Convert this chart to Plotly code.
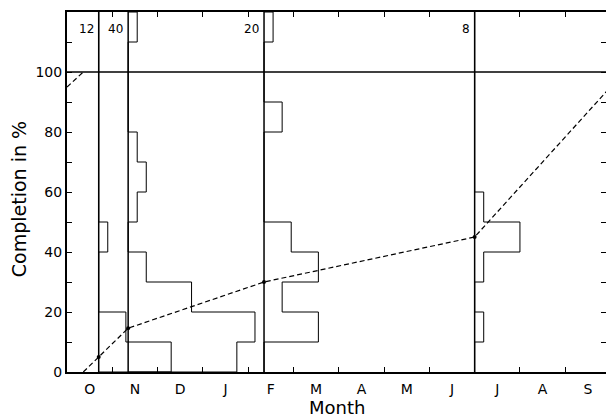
import plotly.graph_objects as go

# ---------------- data ----------------
months = ['O', 'N', 'D', 'J', 'F', 'M', 'A', 'M', 'J', 'J', 'A', 'S']
month_mid = [i + 0.5 for i in range(12)]
month_bounds = list(range(1, 12))

cohort_x = [0.7, 1.35, 4.35, 9.0]          # start of each cohort (months after 1 Oct)
cohort_n = [12, 40, 20, 8]                 # number of items per cohort
bin_edges = list(range(0, 130, 10))        # completion bins in %
counts = [
    [8, 3, 0, 0, 1, 0, 0, 0, 0, 0, 0, 0],
    [12, 14, 7, 2, 0, 1, 2, 1, 0, 0, 0, 1],
    [0, 6, 2, 6, 3, 0, 0, 0, 2, 0, 0, 1],
    [0, 1, 0, 1, 5, 1, 0, 0, 0, 0, 0, 0],
]
count_scale = 0.2                          # months of bar length per item

curve_x = [0.36, 0.7, 1.35, 4.35, 9.0, 12.0]
curve_y = [0, 5, 14.6, 30, 45, 95]
wrap_x = [0, 0.36]
wrap_y = [95, 100]
dot_x = [0.7, 1.35, 4.35, 9.0]
dot_y = [5, 14.6, 30, 45]

target = 100
x_max = 11.9
y_max = 120

FONT = 'DejaVu Sans'

fig = go.Figure()

# histogram step outlines
for x0, cnt in zip(cohort_x, counts):
    xs, ys = [x0], [bin_edges[0]]
    for i, c in enumerate(cnt):
        xs += [x0 + c * count_scale, x0 + c * count_scale]
        ys += [bin_edges[i], bin_edges[i + 1]]
    xs.append(x0)
    ys.append(bin_edges[-1])
    fig.add_trace(go.Scatter(x=xs, y=ys, mode='lines',
                             line=dict(color='black', width=1),
                             hoverinfo='skip', showlegend=False))

# cohort vertical lines
for x0 in cohort_x:
    fig.add_shape(type='line', xref='x', yref='paper', x0=x0, x1=x0, y0=0, y1=1,
                  line=dict(color='black', width=1.5))

# 100 % line
fig.add_shape(type='line', xref='paper', yref='y', x0=0, x1=1, y0=target, y1=target,
              line=dict(color='black', width=1.5))

# dashed completion curve
dash = '5px,3px'
fig.add_trace(go.Scatter(x=curve_x, y=curve_y, mode='lines',
                         line=dict(color='black', width=1.2, dash=dash),
                         showlegend=False, hoverinfo='skip'))
fig.add_trace(go.Scatter(x=wrap_x, y=wrap_y, mode='lines',
                         line=dict(color='black', width=1.2, dash=dash),
                         showlegend=False, hoverinfo='skip'))
fig.add_trace(go.Scatter(x=dot_x, y=dot_y, mode='markers',
                         marker=dict(color='black', size=4),
                         showlegend=False, hoverinfo='skip'))

# dummy traces for the mirrored tick axes
fig.add_trace(go.Scatter(x=[None], y=[None], yaxis='y2', showlegend=False))
fig.add_trace(go.Scatter(x=[None], y=[None], xaxis='x2', showlegend=False))

# cohort sizes
for x0, n in zip(cohort_x, cohort_n):
    fig.add_annotation(x=x0, y=114.3, text=str(n), showarrow=False,
                       xanchor='right', yanchor='middle', xshift=-3,
                       font=dict(family=FONT, size=12, color='black'))

# axis titles
fig.add_annotation(xref='paper', yref='paper', x=0.5, y=-0.1333, text='Month',
                   showarrow=False, xanchor='center', yanchor='bottom',
                   font=dict(family=FONT, size=18, color='black'))
fig.add_annotation(xref='paper', yref='paper', x=-0.089, y=0.48, text='Completion in %',
                   showarrow=False, textangle=-90, xanchor='center', yanchor='middle',
                   font=dict(family=FONT, size=19, color='black'))

ytickvals = list(range(0, 120, 10))
yticktext = [str(v) if v % 20 == 0 else '' for v in ytickvals]

fig.update_layout(
    width=606, height=420,
    margin=dict(l=67, r=0, t=12, b=48, autoexpand=False),
    paper_bgcolor='white', plot_bgcolor='white',
    font=dict(family=FONT, size=14, color='black'),
    xaxis=dict(range=[0, x_max], showgrid=False, zeroline=False,
               showline=True, linecolor='black', linewidth=2, mirror=True,
               tickmode='array', tickvals=month_mid, ticktext=months,
               ticks='', ticklabelstandoff=3,
               tickfont=dict(family=FONT, size=14, color='black'),
               minor=dict(tickmode='array', tickvals=month_bounds, ticks='inside',
                          ticklen=5, tickwidth=1.2, tickcolor='black'),
               automargin=False),
    xaxis2=dict(range=[0, x_max], overlaying='x', side='top', showgrid=False,
                zeroline=False, showline=False, showticklabels=False,
                tickmode='array', tickvals=month_bounds,
                ticks='inside', ticklen=5, tickwidth=1.2, tickcolor='black'),
    yaxis=dict(range=[0, y_max], showgrid=False, zeroline=False,
               showline=True, linecolor='black', linewidth=2,
               tickmode='array', tickvals=ytickvals, ticktext=yticktext,
               ticks='inside', ticklen=5, tickwidth=1.2, tickcolor='black',
               tickfont=dict(family=FONT, size=14, color='black'),
               automargin=False),
    yaxis2=dict(range=[0, y_max], overlaying='y', side='right', showgrid=False,
                zeroline=False, showline=False, showticklabels=False,
                tickmode='array', tickvals=ytickvals,
                ticks='inside', ticklen=5, tickwidth=1.2, tickcolor='black'),
)

fig.write_html('out.html')
